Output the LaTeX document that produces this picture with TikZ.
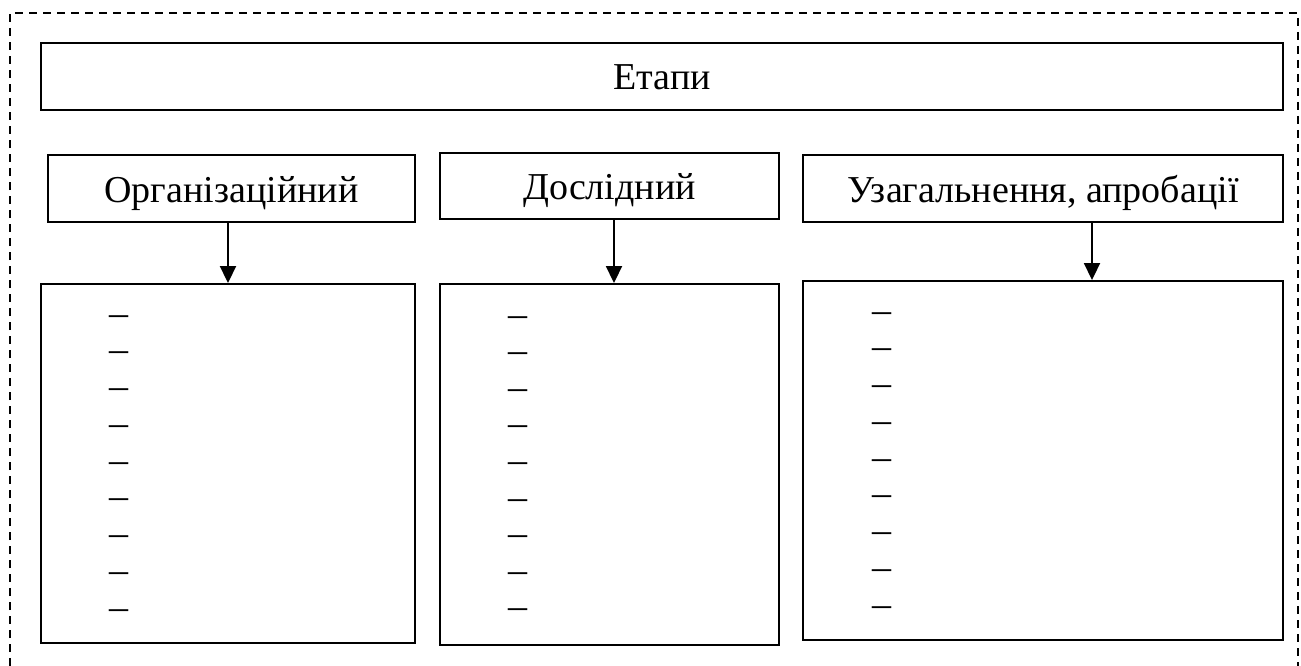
\documentclass[tikz,border=0pt]{standalone}
\usepackage{fontspec}
\setmainfont{Liberation Serif}
\usetikzlibrary{arrows.meta,calc}
\begin{document}
\begin{tikzpicture}[x=1pt,y=-1pt,
  box/.style={draw=black,line width=1.9pt,inner sep=0pt,text height=35pt,text depth=8pt,font=\fontsize{38}{44}\selectfont},
  arr/.style={line width=1.9pt,-{Triangle[width=16pt,length=17pt]}},
  dashtxt/.style={inner sep=0pt,font=\fontsize{38}{44}\selectfont},
  frame/.style={line width=1.3pt,dash pattern=on 8pt off 6pt}]
\useasboundingbox (0,0) rectangle (1301,666);
\fill[white] (0,0) rectangle (1301,666);
\draw[frame] (10,666) -- (10,13) -- (1298,13) -- (1298,666);
\node[box,minimum width=1242,minimum height=67] (top) at (662,76.5) {Етапи};
\node[box,minimum width=367,minimum height=67] (s1) at (231.5,188.5) {Організаційний};
\node[box,minimum width=339,minimum height=66] (s2) at (609.5,186) {Дослідний};
\node[box,minimum width=480,minimum height=67] (s3) at (1043,188.5) {Узагальнення, апробації};
\node[box,minimum width=374,minimum height=359] (l1) at (228,463.5) {};
\node[box,minimum width=339,minimum height=361] (l2) at (609.5,464.5) {};
\node[box,minimum width=480,minimum height=359] (l3) at (1043,460.5) {};
\draw[arr] ([xshift=-3.5]s1.south) -- ([xshift=-3.5]s1.south |- l1.north);
\draw[arr] ([xshift=4.5]s2.south) -- ([xshift=4.5]s2.south |- l2.north);
\draw[arr] ([xshift=49]s3.south) -- ([xshift=49]s3.south |- l3.north);
\foreach \i in {0,...,8}{
  \node[dashtxt,anchor=base west] (da\i) at (109,{316+36.75*\i+9}) {–};
  \node[dashtxt,anchor=base west] (db\i) at (508,{317+36.6*\i+9}) {–};
  \node[dashtxt,anchor=base west] (dc\i) at (872,{313+36.75*\i+9}) {–};
}
\end{tikzpicture}
\end{document}
